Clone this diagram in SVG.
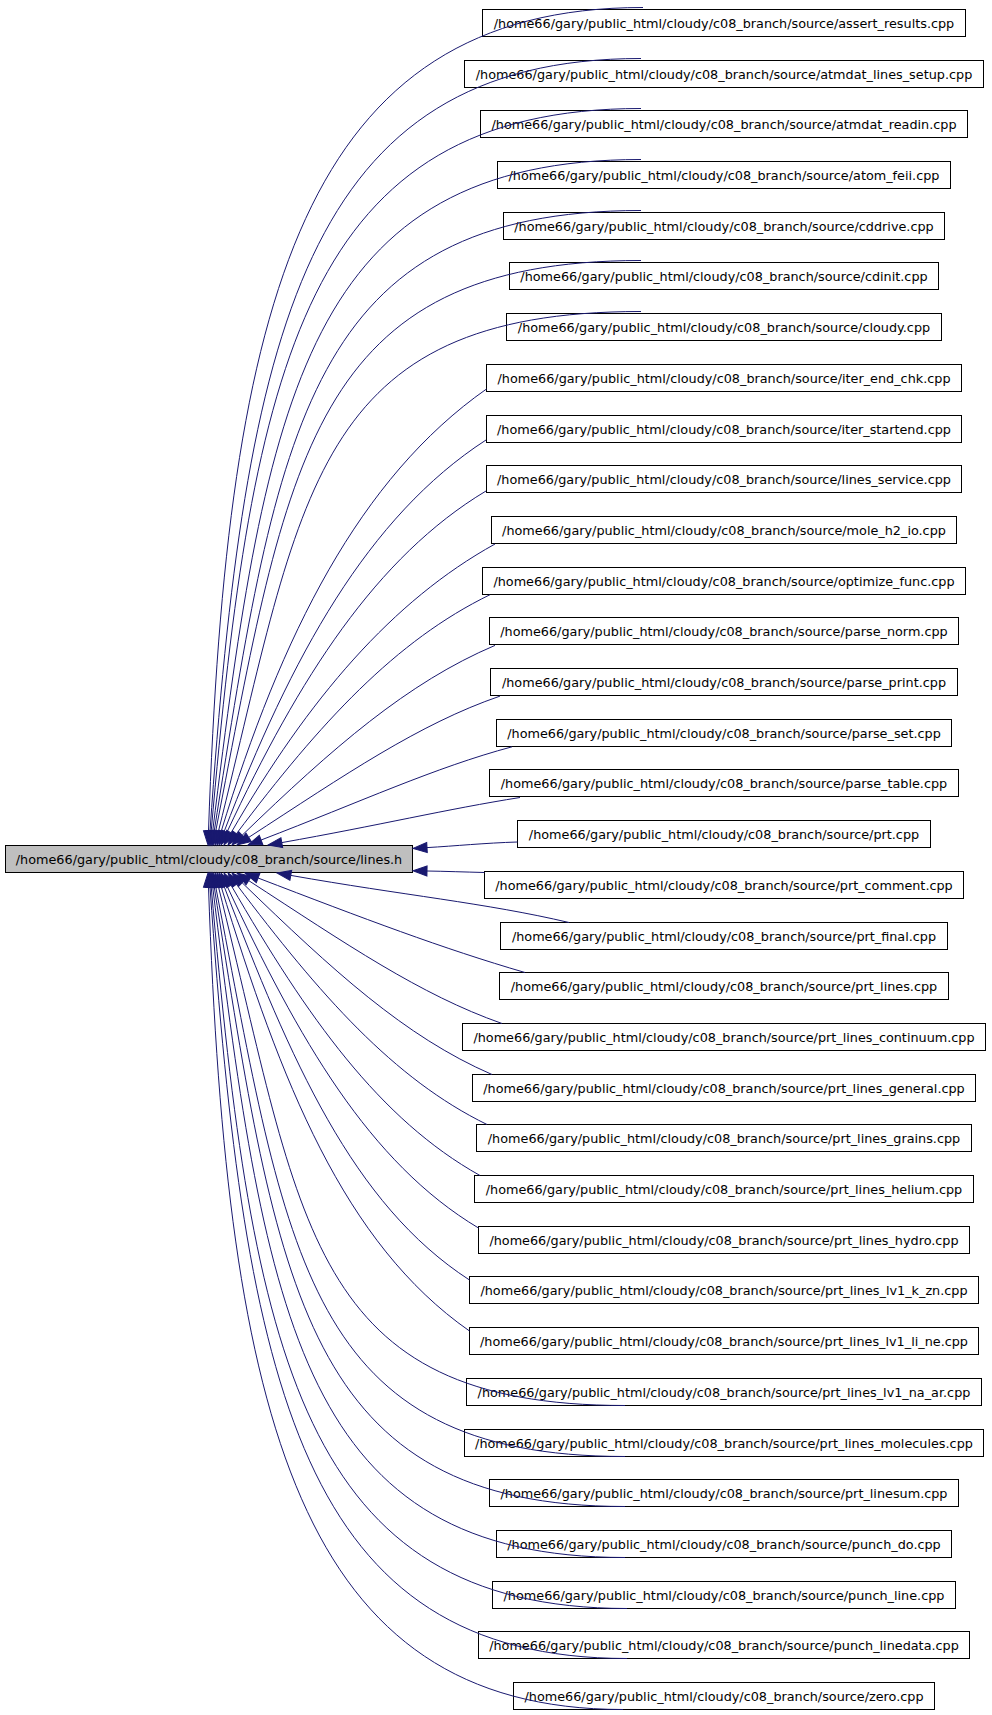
<svg xmlns="http://www.w3.org/2000/svg" width="992" height="1715" viewBox="0 0 992 1715">
<defs>
<style>
.n rect{fill:#ffffff;stroke:#000000;stroke-width:1}
.m rect{fill:#bfbfbf;stroke:#000000;stroke-width:1}
text{font-family:"DejaVu Sans","Liberation Sans",sans-serif;font-size:12.8px;fill:#000000;text-anchor:middle}
#edges path{fill:none;stroke:#191970;stroke-width:1;marker-end:url(#ah)}
</style>
<marker id="ah" markerUnits="userSpaceOnUse" markerWidth="16" markerHeight="12" viewBox="0 -6 16 12" refX="0" refY="0" orient="auto" overflow="visible">
<polygon points="0,-5 14,0 0,5" fill="#191970" stroke="#191970" stroke-width="1"/>
</marker>
</defs>
<rect width="992" height="1715" fill="#ffffff"/>
<g id="node_lines_h" class="m"><rect x="5.5" y="845.5" width="407" height="27"/><text x="209" y="863.5">/home66/gary/public_html/cloudy/c08_branch/source/lines.h</text></g>
<g id="n0" class="n"><rect x="482.5" y="9.5" width="483" height="27"/><text x="724" y="27.5">/home66/gary/public_html/cloudy/c08_branch/source/assert_results.cpp</text></g>
<g id="n1" class="n"><rect x="464.5" y="60.5" width="519" height="27"/><text x="724" y="78.5">/home66/gary/public_html/cloudy/c08_branch/source/atmdat_lines_setup.cpp</text></g>
<g id="n2" class="n"><rect x="480.5" y="110.5" width="487" height="27"/><text x="724" y="128.5">/home66/gary/public_html/cloudy/c08_branch/source/atmdat_readin.cpp</text></g>
<g id="n3" class="n"><rect x="497.5" y="161.5" width="453" height="27"/><text x="724" y="179.5">/home66/gary/public_html/cloudy/c08_branch/source/atom_feii.cpp</text></g>
<g id="n4" class="n"><rect x="503.5" y="212.5" width="441" height="27"/><text x="724" y="230.5">/home66/gary/public_html/cloudy/c08_branch/source/cddrive.cpp</text></g>
<g id="n5" class="n"><rect x="509.5" y="262.5" width="429" height="27"/><text x="724" y="280.5">/home66/gary/public_html/cloudy/c08_branch/source/cdinit.cpp</text></g>
<g id="n6" class="n"><rect x="506.5" y="313.5" width="435" height="27"/><text x="724" y="331.5">/home66/gary/public_html/cloudy/c08_branch/source/cloudy.cpp</text></g>
<g id="n7" class="n"><rect x="486.5" y="364.5" width="475" height="27"/><text x="724" y="382.5">/home66/gary/public_html/cloudy/c08_branch/source/iter_end_chk.cpp</text></g>
<g id="n8" class="n"><rect x="486.5" y="415.5" width="475" height="27"/><text x="724" y="433.5">/home66/gary/public_html/cloudy/c08_branch/source/iter_startend.cpp</text></g>
<g id="n9" class="n"><rect x="486.5" y="465.5" width="475" height="27"/><text x="724" y="483.5">/home66/gary/public_html/cloudy/c08_branch/source/lines_service.cpp</text></g>
<g id="n10" class="n"><rect x="491.5" y="516.5" width="465" height="27"/><text x="724" y="534.5">/home66/gary/public_html/cloudy/c08_branch/source/mole_h2_io.cpp</text></g>
<g id="n11" class="n"><rect x="482.5" y="567.5" width="483" height="27"/><text x="724" y="585.5">/home66/gary/public_html/cloudy/c08_branch/source/optimize_func.cpp</text></g>
<g id="n12" class="n"><rect x="489.5" y="617.5" width="469" height="27"/><text x="724" y="635.5">/home66/gary/public_html/cloudy/c08_branch/source/parse_norm.cpp</text></g>
<g id="n13" class="n"><rect x="490.5" y="668.5" width="467" height="27"/><text x="724" y="686.5">/home66/gary/public_html/cloudy/c08_branch/source/parse_print.cpp</text></g>
<g id="n14" class="n"><rect x="496.5" y="719.5" width="455" height="27"/><text x="724" y="737.5">/home66/gary/public_html/cloudy/c08_branch/source/parse_set.cpp</text></g>
<g id="n15" class="n"><rect x="489.5" y="769.5" width="469" height="27"/><text x="724" y="787.5">/home66/gary/public_html/cloudy/c08_branch/source/parse_table.cpp</text></g>
<g id="n16" class="n"><rect x="517.5" y="820.5" width="413" height="27"/><text x="724" y="838.5">/home66/gary/public_html/cloudy/c08_branch/source/prt.cpp</text></g>
<g id="n17" class="n"><rect x="484.5" y="871.5" width="479" height="27"/><text x="724" y="889.5">/home66/gary/public_html/cloudy/c08_branch/source/prt_comment.cpp</text></g>
<g id="n18" class="n"><rect x="500.5" y="922.5" width="447" height="27"/><text x="724" y="940.5">/home66/gary/public_html/cloudy/c08_branch/source/prt_final.cpp</text></g>
<g id="n19" class="n"><rect x="499.5" y="972.5" width="449" height="27"/><text x="724" y="990.5">/home66/gary/public_html/cloudy/c08_branch/source/prt_lines.cpp</text></g>
<g id="n20" class="n"><rect x="462.5" y="1023.5" width="523" height="27"/><text x="724" y="1041.5">/home66/gary/public_html/cloudy/c08_branch/source/prt_lines_continuum.cpp</text></g>
<g id="n21" class="n"><rect x="472.5" y="1074.5" width="503" height="27"/><text x="724" y="1092.5">/home66/gary/public_html/cloudy/c08_branch/source/prt_lines_general.cpp</text></g>
<g id="n22" class="n"><rect x="476.5" y="1124.5" width="495" height="27"/><text x="724" y="1142.5">/home66/gary/public_html/cloudy/c08_branch/source/prt_lines_grains.cpp</text></g>
<g id="n23" class="n"><rect x="474.5" y="1175.5" width="499" height="27"/><text x="724" y="1193.5">/home66/gary/public_html/cloudy/c08_branch/source/prt_lines_helium.cpp</text></g>
<g id="n24" class="n"><rect x="478.5" y="1226.5" width="491" height="27"/><text x="724" y="1244.5">/home66/gary/public_html/cloudy/c08_branch/source/prt_lines_hydro.cpp</text></g>
<g id="n25" class="n"><rect x="469.5" y="1276.5" width="509" height="27"/><text x="724" y="1294.5">/home66/gary/public_html/cloudy/c08_branch/source/prt_lines_lv1_k_zn.cpp</text></g>
<g id="n26" class="n"><rect x="469.5" y="1327.5" width="509" height="27"/><text x="724" y="1345.5">/home66/gary/public_html/cloudy/c08_branch/source/prt_lines_lv1_li_ne.cpp</text></g>
<g id="n27" class="n"><rect x="466.5" y="1378.5" width="515" height="27"/><text x="724" y="1396.5">/home66/gary/public_html/cloudy/c08_branch/source/prt_lines_lv1_na_ar.cpp</text></g>
<g id="n28" class="n"><rect x="464.5" y="1429.5" width="519" height="27"/><text x="724" y="1447.5">/home66/gary/public_html/cloudy/c08_branch/source/prt_lines_molecules.cpp</text></g>
<g id="n29" class="n"><rect x="489.5" y="1479.5" width="469" height="27"/><text x="724" y="1497.5">/home66/gary/public_html/cloudy/c08_branch/source/prt_linesum.cpp</text></g>
<g id="n30" class="n"><rect x="496.5" y="1530.5" width="455" height="27"/><text x="724" y="1548.5">/home66/gary/public_html/cloudy/c08_branch/source/punch_do.cpp</text></g>
<g id="n31" class="n"><rect x="492.5" y="1581.5" width="463" height="27"/><text x="724" y="1599.5">/home66/gary/public_html/cloudy/c08_branch/source/punch_line.cpp</text></g>
<g id="n32" class="n"><rect x="478.5" y="1631.5" width="491" height="27"/><text x="724" y="1649.5">/home66/gary/public_html/cloudy/c08_branch/source/punch_linedata.cpp</text></g>
<g id="n33" class="n"><rect x="513.5" y="1682.5" width="421" height="27"/><text x="724" y="1700.5">/home66/gary/public_html/cloudy/c08_branch/source/zero.cpp</text></g>
<g id="edges">
<path d="M643,7.5 C304.1,7.5 227.2,295.7 208.5,831"/>
<path d="M641,58.5 C304.8,58.5 245.1,328.7 210,831"/>
<path d="M641,108.5 C305.8,108.5 252.3,361.7 211.2,831.1"/>
<path d="M641,159.5 C306.9,159.5 266.4,394.6 212.7,831.1"/>
<path d="M641,210.5 C308.1,210.5 278,427.6 214.2,831.2"/>
<path d="M641,260.5 C309.3,260.5 287.6,460.6 215.7,831.3"/>
<path d="M641,311.5 C311.4,311.5 302.5,493.6 218.4,831.4"/>
<path d="M486.5,389 C359.6,478 281.3,634.7 221.1,831.6"/>
<path d="M486,440 C367.7,516.8 291.3,656.3 224,831.9"/>
<path d="M486,491 C376.3,556.9 299.2,677.4 226.9,832.3"/>
<path d="M495,544 C392.6,600.7 309,697.8 231,832.9"/>
<path d="M490,594.7 C395.6,640.7 320.7,721.9 236.4,833.8"/>
<path d="M495,645.4 C407.5,682.5 332.7,747.7 242.1,835.3"/>
<path d="M500,696.1 C418.6,724.1 345.2,774.7 248.7,837.4"/>
<path d="M512,746.8 C434.7,767.5 361,801.7 261.1,840"/>
<path d="M520,797.5 C447.9,808.9 377.3,825.7 281.8,842.6"/>
<path d="M517.5,842 C485,843 455,846 427,847.6"/>
<path d="M484.5,872.5 C465,872 445,871.3 427,871"/>
<path d="M569,922.5 C486.2,903 402.1,895.1 290.8,875.4"/>
<path d="M525,972.5 C443.3,948.8 363.6,918.5 258.1,878"/>
<path d="M502,1023.5 C419.7,994.6 346,943.8 248.7,880.6"/>
<path d="M492,1074.5 C404.5,1036.6 332.7,970.3 242.1,882.7"/>
<path d="M487,1124.5 C393.5,1078.8 320.1,995.3 236.4,884.2"/>
<path d="M480,1175.5 C379.4,1119.3 307.5,1017.6 231,885.1"/>
<path d="M478.5,1228 C369.2,1162.6 298.8,1039.7 226.9,885.7"/>
<path d="M469.5,1280 C352.4,1204.2 290.6,1059.8 224,886.1"/>
<path d="M469.5,1331 C343.7,1243.2 280.7,1081.4 221.1,886.4"/>
<path d="M625,1405.5 C307.9,1405.5 302.4,1223.8 218.4,886.6"/>
<path d="M625,1456.5 C305.7,1456.5 287.5,1256.8 215.7,886.7"/>
<path d="M625,1506.5 C304.6,1506.5 277.9,1289.8 214.2,886.8"/>
<path d="M625,1557.5 C303.4,1557.5 266.3,1322.8 212.7,886.9"/>
<path d="M627,1608.5 C302.7,1608.5 252.2,1355.7 211.2,886.9"/>
<path d="M627,1658.5 C301.7,1658.5 245.1,1388.7 210,887"/>
<path d="M623,1709.5 C299.7,1709.5 227.2,1421.7 208.5,887"/>
</g>
</svg>
